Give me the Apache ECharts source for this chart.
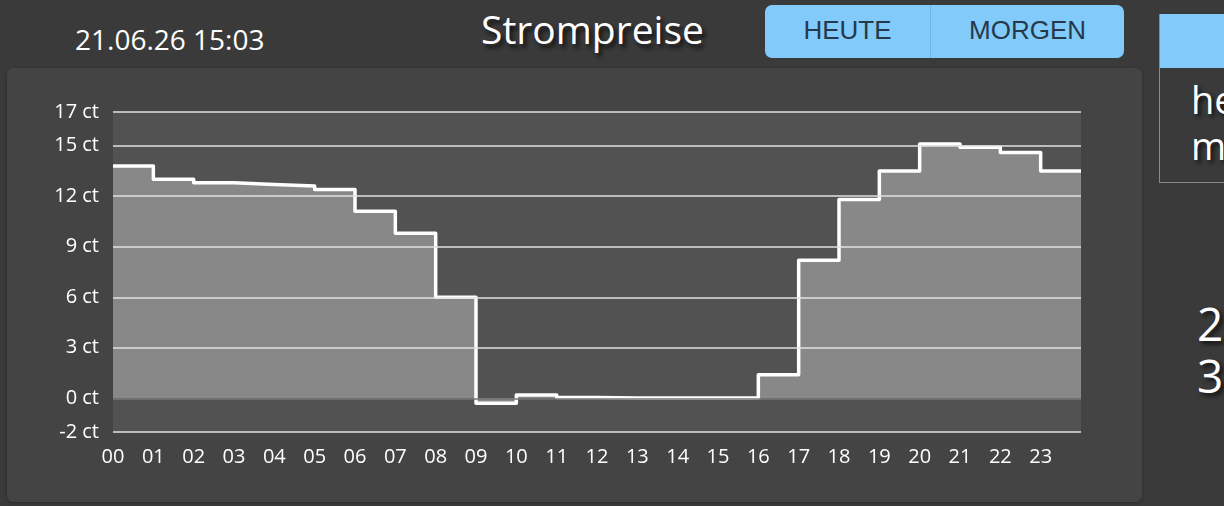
<!DOCTYPE html>
<html>
<head>
<meta charset="utf-8">
<script src="https://cdn.jsdelivr.net/npm/echarts@6/dist/echarts.min.js"></script>
<style>
  html, body { margin: 0; padding: 0; width: 1224px; height: 506px; overflow: hidden; background: #3a3a3a; font-family: 'Open Sans', sans-serif; }
  .date { position: absolute; left: 75px; top: 20px; font-size: 28px; color: #fff; }
  .title { position: absolute; left: 470px; width: 245px; top: 2px; text-align: center; font-size: 39px; color: #fff; text-shadow: 3px 4px 4px #111; }
  .btns { position: absolute; left: 765px; top: 5px; width: 359px; height: 53px; border-radius: 7px; background: #81cafa; display: flex; font-family: 'Liberation Sans', Arial, sans-serif; font-size: 26px; color: #25394a; }
  .btns div { flex: 1; display: flex; align-items: center; justify-content: center; padding-bottom: 2px; }
  .btns div:first-child { flex: 0 0 165px; border-right: 1px solid #6fb6e4; }
  .side { position: absolute; left: 1159px; top: 14px; width: 90px; height: 168px; border: 1px solid #8a8a8a; border-top: none; }
  .side .head { height: 54px; background: #81cafa; }
  .side .txt { color: #fff; font-size: 38px; line-height: 46px; padding-left: 31px; padding-top: 8px; text-shadow: 3px 3px 4px #111; }
  .big { position: absolute; left: 1197px; color: #fff; font-size: 46px; text-shadow: 3px 3px 4px #111; }
  .card { position: absolute; left: 7px; top: 68px; width: 1135px; height: 434px; border-radius: 6px; background: #444444; box-shadow: 0 1px 3px #2a2a2a; }
  #chart { position: absolute; left: 0; top: 0; width: 1224px; height: 506px; }
</style>
</head>
<body>
<div class="date">21.06.26 15:03</div>
<div class="title">Strompreise</div>
<div class="btns"><div>HEUTE</div><div>MORGEN</div></div>
<div class="side"><div class="head"></div><div class="txt">he<br>m</div></div>
<div class="big" style="top:292px">2</div>
<div class="big" style="top:344px">3</div>
<div class="card"></div>
<div id="chart"></div>
<script>
// hours of the day (x labels)
var hours = ['00','01','02','03','04','05','06','07','08','09','10','11',
             '12','13','14','15','16','17','18','19','20','21','22','23'];
// price per hour in ct
var prices = [13.8, 13.0, 12.8, 12.7, 12.6, 12.4, 11.1, 9.8, 6.0, -0.3, 0.2, 0.05,
              0.02, 0.02, 0.02, 0.02, 1.4, 8.2, 11.8, 13.5, 15.1, 14.9, 14.6, 13.5];
// y tick labels
var yTicks = [-2, 0, 3, 6, 9, 12, 15, 17];

// step points, last hour extended to the end of the day
var stepData = prices.map(function (p, i) { return [i, p]; });
stepData.push([prices.length, prices[prices.length - 1]]);

var gridLines = yTicks.map(function (v) {
  if (v === 0) return { yAxis: v, lineStyle: { color: '#777', width: 1.5 } };
  return { yAxis: v };
});

var chart = echarts.init(document.getElementById('chart'));
chart.setOption({
  animation: false,
  grid: { left: 113, top: 112, width: 968, height: 320, show: true, backgroundColor: '#525252', borderWidth: 0 },
  xAxis: {
    type: 'value', min: 0, max: 24, interval: 1,
    axisLine: { show: false }, axisTick: { show: false }, splitLine: { show: false },
    axisLabel: {
      color: '#fff', fontSize: 20, fontFamily: 'Open Sans', margin: 15,
      formatter: function (v) { return hours[v] || ''; }
    }
  },
  yAxis: {
    type: 'value', min: -2, max: 17,
    axisLine: { show: false }, axisTick: { show: false }, splitLine: { show: false },
    axisLabel: {
      color: '#fff', fontSize: 20, fontFamily: 'Open Sans', margin: 14,
      customValues: yTicks,
      formatter: function (v) { return v + ' ct'; }
    }
  },
  series: [
    {
      type: 'line', step: 'end', data: stepData, z: 2,
      symbol: 'none', lineStyle: { width: 0 },
      areaStyle: { color: '#888888', opacity: 1 }
    },
    {
      type: 'line', data: [], z: 3, symbol: 'none',
      markLine: {
        silent: true, symbol: 'none', label: { show: false },
        lineStyle: { color: '#e2e2e2', width: 1.5, type: 'solid' },
        data: gridLines
      }
    },
    {
      type: 'line', step: 'end', data: stepData, z: 4,
      symbol: 'none', lineStyle: { color: '#fff', width: 3.5, join: 'round' }
    }
  ]
});
</script>
</body>
</html>
